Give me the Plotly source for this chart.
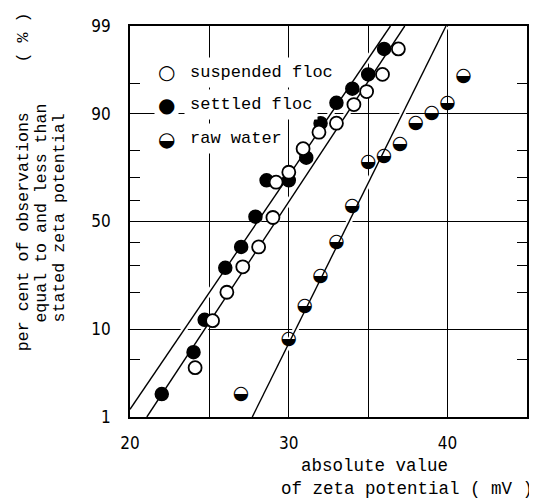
from statistics import NormalDist
import plotly.graph_objects as go

nd = NormalDist()
def z(pcts):
    return [nd.inv_cdf(p / 100.0) for p in pcts]

# ---------------- data ----------------
suspended_x = [24.1, 25.2, 26.1, 27.1, 28.1, 29.0, 29.2, 30.0, 30.9, 31.9, 33.0, 34.1, 34.9, 35.9, 36.9]
suspended_pct = [4.1, 11.9, 20.0, 29.5, 38.1, 51.9, 68.0, 72.1, 80.7, 85.6, 87.9, 91.8, 93.9, 96.0, 98.0]

settled_x = [22.0, 24.0, 24.7, 26.0, 27.0, 27.9, 28.6, 30.0, 31.1, 32.0, 33.0, 34.0, 35.0, 36.0]
settled_pct = [2.0, 6.0, 12.1, 29.1, 38.1, 52.3, 68.8, 68.8, 77.6, 87.9, 92.1, 94.3, 96.0, 98.0]

raw_x = [27.0, 30.0, 31.0, 32.0, 33.0, 34.0, 35.0, 36.0, 37.0, 38.0, 39.0, 40.0, 41.0]
raw_pct = [2.0, 8.0, 15.7, 25.6, 40.3, 57.4, 75.9, 78.0, 82.2, 87.9, 90.1, 92.0, 95.8]

# fitted straight lines on probability paper (end points)
fit_settled_x = [20.0, 36.4]
fit_settled_pct = [1.27, 99.0]
fit_suspended_x = [21.06, 37.3]
fit_suspended_pct = [1.0, 99.0]
fit_raw_x = [27.7, 39.9]
fit_raw_pct = [1.0, 99.0]

x_ticks = [20, 30, 40]
x_minor_grid = [25, 35]
y_ticks_pct = [1, 10, 50, 90, 99]
y_minor_pct = [5, 20, 30, 40, 60, 70, 80, 95]

# ---------------- figure ----------------
MONO = "Liberation Mono, Courier New, monospace"
NARROW = "Liberation Sans Narrow, Arial Narrow, DejaVu Sans Condensed, Liberation Sans, sans-serif"
GLYPH = "DejaVu Sans"

# page offset of the figure (browser body margin) and plot box in page pixels
OFF = 8
PL, PR, PT, PB = 130, 529, 19, 417

def px2paper_x(px):
    return (px - PL) / (PR - PL)

def px2paper_y(py):
    return (PB - py) / (PB - PT)

fig = go.Figure()

for fx, fp in [(fit_settled_x, fit_settled_pct), (fit_suspended_x, fit_suspended_pct), (fit_raw_x, fit_raw_pct)]:
    fig.add_trace(go.Scatter(x=fx, y=z(fp), mode="lines", line=dict(color="white", width=6),
                             showlegend=False, hoverinfo="skip"))
    fig.add_trace(go.Scatter(x=fx, y=z(fp), mode="lines", line=dict(color="black", width=1.4),
                             showlegend=False, hoverinfo="skip"))

fig.add_trace(go.Scatter(x=settled_x, y=z(settled_pct), mode="markers", name="settled floc",
                         marker=dict(symbol="circle", size=13, color="black",
                                     line=dict(color="black", width=1.5)), showlegend=False))
fig.add_trace(go.Scatter(x=suspended_x, y=z(suspended_pct), mode="markers", name="suspended floc",
                         marker=dict(symbol="circle", size=13, color="white",
                                     line=dict(color="black", width=1.8)), showlegend=False))
fig.add_trace(go.Scatter(x=raw_x, y=z(raw_pct), mode="text", name="raw water",
                         text=["\u25D2"] * len(raw_x), textposition="middle center",
                         textfont=dict(family=GLYPH, size=19, color="black"), showlegend=False))

ylo, yhi = nd.inv_cdf(0.01), nd.inv_cdf(0.99)

fig.update_xaxes(range=[20, 45], tickvals=x_ticks, ticktext=[str(v) for v in x_ticks],
                 ticks="", showgrid=True, gridcolor="black", gridwidth=1.2,
                 showline=True, linecolor="black", linewidth=1.6, mirror=True,
                 zeroline=False, ticklabelstandoff=10,
                 tickfont=dict(family=NARROW, size=17, color="black"),
                 minor=dict(tickvals=x_minor_grid, showgrid=True, gridcolor="black",
                            gridwidth=1.2, ticks=""))
fig.update_yaxes(range=[ylo, yhi], tickvals=z(y_ticks_pct), ticktext=[str(v) for v in y_ticks_pct],
                 ticks="", showgrid=True, gridcolor="black", gridwidth=1.2,
                 showline=True, linecolor="black", linewidth=1.6, mirror="ticks",
                 zeroline=False, ticklabelstandoff=14,
                 tickfont=dict(family=NARROW, size=17, color="black"),
                 minor=dict(tickvals=z(y_minor_pct), ticks="inside", ticklen=10,
                            tickcolor="black", tickwidth=1.3, showgrid=False))

# legend built from text (symbols + labels)
legend_rows = [("\u25CB", "suspended floc", 66), ("\u25CF", "settled floc", 99), ("\u25D2", "raw water", 134)]
for sym, label, py in legend_rows:
    yp = px2paper_y(py)
    fig.add_annotation(xref="paper", yref="paper", x=px2paper_x(167), y=yp, text=sym,
                       showarrow=False, xanchor="center", yanchor="middle",
                       font=dict(family=GLYPH, size=20, color="black"), bgcolor="white", borderpad=3)
    fig.add_annotation(xref="paper", yref="paper", x=px2paper_x(184), y=yp, text=label,
                       showarrow=False, xanchor="left", yanchor="middle",
                       font=dict(family=MONO, size=17, color="black"), bgcolor="white", borderpad=5)

# axis titles
fig.add_annotation(xref="paper", yref="paper", x=px2paper_x(301), y=px2paper_y(467),
                   text="absolute value", showarrow=False, xanchor="left", yanchor="middle",
                   font=dict(family=MONO, size=17.5, color="black"), borderpad=0)
fig.add_annotation(xref="paper", yref="paper", x=px2paper_x(281), y=px2paper_y(490),
                   text="of zeta potential ( mV )", showarrow=False, xanchor="left", yanchor="middle",
                   font=dict(family=MONO, size=17.5, color="black"), borderpad=0)

ytitle = [("per cent of observations\u00a0\u00a0\u00a0\u00a0\u00a0( % )", 23, 351),
          ("equal to and less than", 41, 322),
          ("stated zeta potential", 59, 322)]
for txt, px, pybot in ytitle:
    fig.add_annotation(xref="paper", yref="paper", x=px2paper_x(px), y=px2paper_y(pybot),
                       text=txt, showarrow=False, textangle=-90, xanchor="center", yanchor="bottom",
                       font=dict(family=MONO, size=16.6, color="black"), borderpad=0)

W, H = 537 - OFF, 503 - OFF
fig.update_layout(width=W, height=H,
                  margin=dict(l=PL - OFF, r=W + OFF - PR, t=PT - OFF, b=H + OFF - PB, pad=0),
                  plot_bgcolor="white", paper_bgcolor="white", showlegend=False)

fig.write_html("out.html")
